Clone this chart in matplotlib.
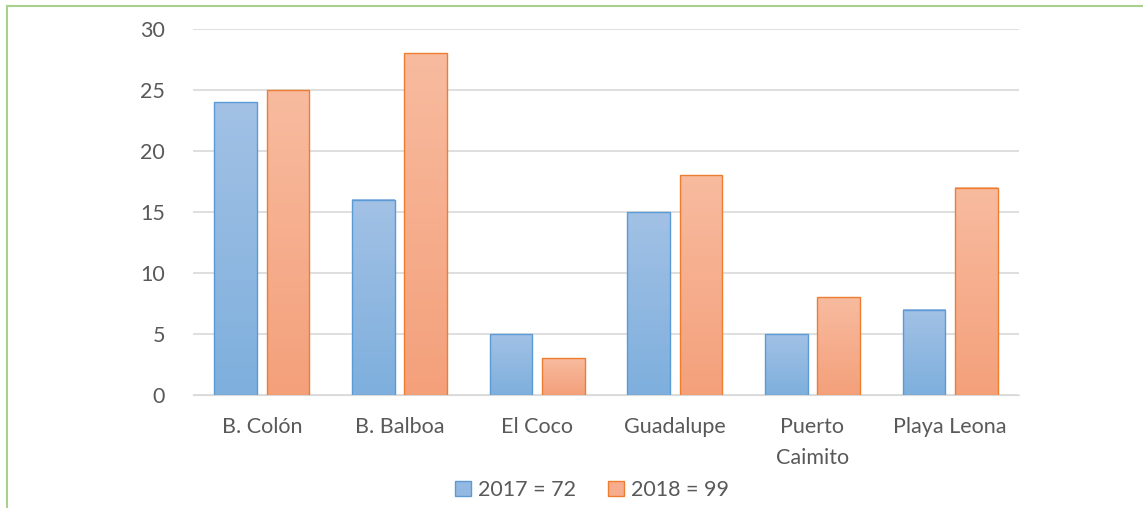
import numpy as np
import matplotlib.pyplot as plt
from matplotlib.colors import LinearSegmentedColormap
from matplotlib.patches import Patch

# data
categories = ["B. Colón", "B. Balboa", "El Coco", "Guadalupe", "Puerto\nCaimito", "Playa Leona"]
values_2017 = [24, 16, 5, 15, 5, 7]
values_2018 = [25, 28, 3, 18, 8, 17]
series_labels = ["2017 = 72", "2018 = 99"]

plt.rcParams['font.family'] = ['Lato', 'DejaVu Sans']
grey = "#595959"

fig = plt.figure(figsize=(11.43, 5.08), dpi=100)
ax = fig.add_axes([193 / 1143, 1 - 395 / 508, 826 / 1143, 366 / 508])

x = np.arange(len(categories))
w = 0.31
gap = 0.07

blue_cmap = LinearSegmentedColormap.from_list("b", ["#7eafdd", "#a2c1e5"])
orange_cmap = LinearSegmentedColormap.from_list("o", ["#f4a07b", "#f8bb9f"])
grad = np.linspace(0, 1, 256).reshape(-1, 1)


def gradient_bars(xs, heights, cmap, edge):
    bars = ax.bar(xs, heights, width=w, facecolor="none", edgecolor=edge, linewidth=1.0, zorder=3)
    for b in bars:
        bx, by = b.get_x(), b.get_y()
        bw, bh = b.get_width(), b.get_height()
        ax.imshow(grad, cmap=cmap, origin="lower", aspect="auto",
                  extent=[bx, bx + bw, by, by + bh], zorder=2)
    return bars


gradient_bars(x - (w + gap) / 2, values_2017, blue_cmap, "#5b9bd5")
gradient_bars(x + (w + gap) / 2, values_2018, orange_cmap, "#ed7d31")

ax.set_xlim(-0.5, len(categories) - 0.5)
ax.set_ylim(0, 30)
ax.set_yticks(range(0, 31, 5))
ax.set_xticks(x)
ax.set_xticklabels(categories, linespacing=1.7)
ax.yaxis.grid(True, color="#d9d9d9", linewidth=1.2, zorder=0)
ax.set_axisbelow(True)
for s in ax.spines.values():
    s.set_visible(False)
ax.spines['bottom'].set_visible(True)
ax.spines['bottom'].set_color("#d9d9d9")
ax.tick_params(length=0, labelsize=15.5, colors=grey)
ax.tick_params(axis='x', pad=16)
ax.tick_params(axis='y', pad=20)

handles = [Patch(facecolor="#93b9e2", edgecolor="#5b9bd5"),
           Patch(facecolor="#f6ad8d", edgecolor="#ed7d31")]
fig.legend(handles, series_labels, loc="center", bbox_to_anchor=(592 / 1143, 1 - 490 / 508),
           ncol=2, frameon=False, fontsize=15.5, labelcolor=grey,
           handlelength=0.75, handleheight=0.75, handletextpad=0.3, columnspacing=1.5)

# green outer border (clipped on right and bottom)
fig.add_artist(plt.Line2D([7 / 1143, 7 / 1143], [0, 1 - 5.5 / 508], color="#a9d18e", linewidth=1.5))
fig.add_artist(plt.Line2D([7 / 1143, 1], [1 - 5.5 / 508, 1 - 5.5 / 508], color="#a9d18e", linewidth=1.5))

fig.savefig("out.png", dpi=100)
